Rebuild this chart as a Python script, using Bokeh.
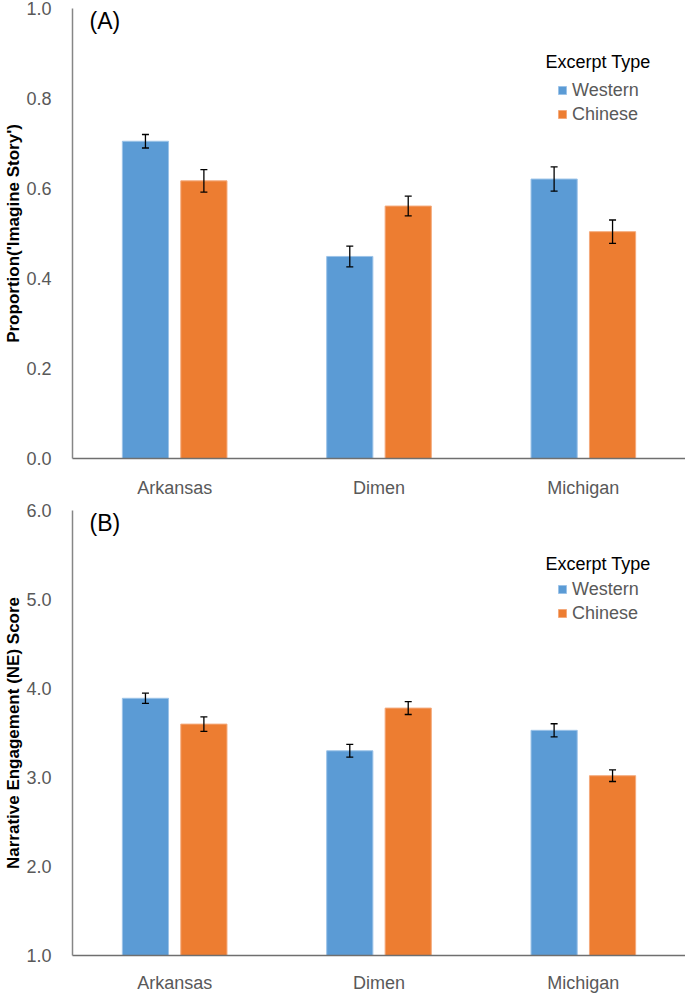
from bokeh.plotting import figure
from bokeh.models import (ColumnDataSource, FactorRange, Whisker, TeeHead, Legend,
                          LegendItem, Label, FixedTicker, NumeralTickFormatter, Range1d)
from bokeh.transform import dodge
from bokeh.layouts import column
from bokeh.embed import file_html
from bokeh.resources import INLINE

sites = ["Arkansas", "Dimen", "Michigan"]
series_names = ["Western", "Chinese"]
legend_title = "Excerpt Type"

a_western = [0.705, 0.449, 0.621]
a_western_err = [0.015, 0.023, 0.027]
a_chinese = [0.617, 0.561, 0.504]
a_chinese_err = [0.025, 0.022, 0.026]

b_western = [3.89, 3.30, 3.53]
b_western_err = [0.057, 0.072, 0.074]
b_chinese = [3.60, 3.78, 3.02]
b_chinese_err = [0.081, 0.072, 0.065]

a_ticks = [0.0, 0.2, 0.4, 0.6, 0.8, 1.0]
b_ticks = [1.0, 2.0, 3.0, 4.0, 5.0, 6.0]

BLUE = "#5B9BD5"
ORANGE = "#ED7D31"
FONT = "Liberation Sans"
W = 685
LEFT = 72


def panel(title_tag, ylabel, west, west_err, chin, chin_err, ticks, height,
          border_top, border_bottom, label_standoff):
    y0, y1 = ticks[0], ticks[-1]
    frame_h = height - border_top - border_bottom
    frame_w = W - LEFT
    p = figure(x_range=FactorRange(*sites, range_padding=0), y_range=Range1d(y0, y1),
               width=W, height=height, output_backend="svg", toolbar_location=None,
               min_border_left=LEFT, min_border_right=0, min_border_top=border_top,
               min_border_bottom=border_bottom)
    src = ColumnDataSource(dict(
        site=sites, west=west, chin=chin,
        wu=[v + e for v, e in zip(west, west_err)], wl=[v - e for v, e in zip(west, west_err)],
        cu=[v + e for v, e in zip(chin, chin_err)], cl=[v - e for v, e in zip(chin, chin_err)],
    ))
    off = 0.143
    bw = 0.226
    rw = p.vbar(x=dodge("site", -off, range=p.x_range), top="west", bottom=y0, width=bw,
                source=src, fill_color=BLUE, line_color="#9cc3e8", line_width=1)
    rc = p.vbar(x=dodge("site", off, range=p.x_range), top="chin", bottom=y0, width=bw,
                source=src, fill_color=ORANGE, line_color="#f4aa7c", line_width=1)
    for base, up, lo in [(-off, "wu", "wl"), (off, "cu", "cl")]:
        w = Whisker(base=dodge("site", base, range=p.x_range), upper=up, lower=lo, source=src,
                    line_color="black", line_width=1.3, level="overlay",
                    upper_head=TeeHead(size=7, line_color="black", line_width=1.3),
                    lower_head=TeeHead(size=7, line_color="black", line_width=1.3))
        p.add_layout(w)

    p.xgrid.visible = False
    p.ygrid.visible = False
    p.outline_line_color = None

    p.yaxis.ticker = FixedTicker(ticks=ticks)
    p.yaxis.formatter = NumeralTickFormatter(format="0.0")
    p.yaxis.major_tick_line_color = None
    p.yaxis.minor_tick_line_color = None
    p.yaxis.major_label_standoff = 15
    p.yaxis.major_label_text_font = FONT
    p.yaxis.major_label_text_font_size = "18px"
    p.yaxis.major_label_text_color = "#595959"
    p.yaxis.axis_line_color = "#868686"
    p.yaxis.axis_line_width = 1.5
    p.yaxis.axis_label = ylabel
    p.yaxis.axis_label_text_font = FONT
    p.yaxis.axis_label_text_font_style = "bold"
    p.yaxis.axis_label_text_font_size = "17px"
    p.yaxis.axis_label_text_color = "black"
    p.yaxis.axis_label_standoff = 0

    p.xaxis.major_tick_line_color = None
    p.xaxis.minor_tick_line_color = None
    p.xaxis.major_label_text_font = FONT
    p.xaxis.major_label_text_font_size = "18px"
    p.xaxis.major_label_text_color = "#595959"
    p.xaxis.major_label_standoff = label_standoff
    p.xaxis.axis_line_color = "#6f6f6f"
    p.xaxis.axis_line_width = 1.5

    def ypx(px_below_top):
        return y1 - px_below_top * (y1 - y0) / frame_h

    def xpx(px_from_left):
        return px_from_left * len(sites) / frame_w

    tag = Label(x=xpx(17), y=ypx(13), text=title_tag,
                text_font=FONT, text_font_size="23px", text_color="black",
                text_baseline="middle", text_align="left")
    p.add_layout(tag)

    ttl = Label(x=xpx(473), y=ypx(54), text=legend_title,
                text_font=FONT, text_font_size="18px", text_color="black",
                text_baseline="middle", text_align="left")
    p.add_layout(ttl)

    legend = Legend(items=[LegendItem(label=series_names[0], renderers=[rw]),
                           LegendItem(label=series_names[1], renderers=[rc])],
                    location=(485, frame_h - 121),
                    glyph_width=10, glyph_height=10, label_standoff=5, spacing=2,
                    padding=0, margin=0, border_line_color=None, background_fill_alpha=0,
                    label_text_font=FONT, label_text_font_size="18px",
                    label_text_color="#595959", label_height=22)
    p.add_layout(legend)
    return p


p1 = panel("(A)", "Proportion('Imagine Story')", a_western, a_western_err, a_chinese,
           a_chinese_err, a_ticks, 500, 8, 38, 13)
p2 = panel("(B)", "Narrative Engagement (NE) Score", b_western, b_western_err, b_chinese,
           b_chinese_err, b_ticks, 495, 10, 33, 11)

layout = column(p1, p2, spacing=0)
open("out.html", "w").write(file_html(layout, INLINE))
